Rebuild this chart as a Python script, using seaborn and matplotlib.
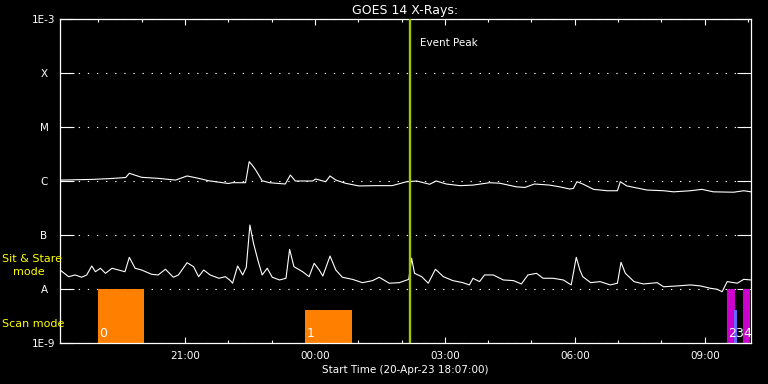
import matplotlib
matplotlib.use("Agg")
import matplotlib.pyplot as plt
import matplotlib.dates as mdates
import matplotlib.ticker as mticker
import numpy as np
import pandas as pd
import seaborn as sns
from datetime import timedelta

# ---------------- data ----------------
start = pd.Timestamp("2023-04-20 18:07:00")
end_min = 957
peak_min = 485

# long channel (1-8 A), minutes from start / flux W m^-2
long_min = [0, 44, 70, 91, 96, 113, 136, 160, 176, 192, 206, 233, 239, 257, 262, 266,
            271, 276, 280, 290, 312, 319, 326, 350, 354, 368, 374, 382, 395, 414, 437,
            460, 480, 494, 512, 521, 535, 554, 572, 595, 609, 632, 644, 657, 678, 692,
            706, 711, 716, 724, 739, 758, 772, 776, 785, 813, 836, 850, 873, 889, 905,
            933, 947, 957]
long_flux = [1.04e-6, 1.07e-6, 1.11e-6, 1.16e-6, 1.39e-6, 1.17e-6, 1.12e-6, 1.04e-6,
             1.24e-6, 1.12e-6, 1.01e-6, 9.0e-7, 9.3e-7, 9.3e-7, 2.28e-6, 1.98e-6,
             1.60e-6, 1.24e-6, 1.01e-6, 9.3e-7, 8.8e-7, 1.29e-6, 1.0e-6, 1.0e-6,
             1.09e-6, 9.7e-7, 1.24e-6, 1.04e-6, 9.1e-7, 8.1e-7, 8.2e-7, 8.2e-7,
             9.7e-7, 1.0e-6, 8.7e-7, 1.0e-6, 8.8e-7, 8.2e-7, 8.4e-7, 9.3e-7, 9.1e-7,
             7.8e-7, 7.6e-7, 8.8e-7, 8.4e-7, 7.8e-7, 7.1e-7, 7.3e-7, 9.7e-7, 8.8e-7,
             7.0e-7, 6.6e-7, 6.6e-7, 9.7e-7, 8.1e-7, 6.8e-7, 6.6e-7, 6.3e-7, 6.6e-7,
             7.0e-7, 6.3e-7, 6.2e-7, 6.6e-7, 6.3e-7]

# short channel (0.5-4 A)
short_min = [0, 12, 21, 30, 37, 44, 49, 56, 63, 72, 81, 90, 96, 104, 113, 127, 136, 146,
             157, 164, 176, 185, 192, 199, 208, 220, 229, 236, 239, 246, 253, 258, 263,
             268, 274, 280, 287, 294, 304, 313, 318, 324, 336, 345, 352, 359, 364, 374,
             382, 391, 405, 419, 433, 442, 456, 470, 483, 487, 491, 501, 510, 520, 531,
             544, 558, 567, 572, 581, 588, 600, 614, 628, 639, 648, 660, 669, 683, 697,
             708, 715, 720, 724, 735, 748, 762, 772, 777, 783, 795, 808, 827, 836, 855,
             873, 887, 901, 910, 917, 924, 938, 947, 957]
short_flux = [2.25e-8, 1.69e-8, 1.82e-8, 1.65e-8, 1.82e-8, 2.67e-8, 2.09e-8, 2.42e-8,
              1.95e-8, 2.42e-8, 2.25e-8, 2.09e-8, 3.86e-8, 2.42e-8, 2.25e-8, 1.87e-8,
              1.82e-8, 2.32e-8, 1.65e-8, 1.82e-8, 3.07e-8, 2.59e-8, 1.69e-8, 2.25e-8,
              1.82e-8, 1.58e-8, 1.69e-8, 1.43e-8, 1.28e-8, 2.67e-8, 1.82e-8, 2.52e-8,
              1.53e-7, 7.02e-8, 3.44e-8, 1.82e-8, 2.42e-8, 1.65e-8, 1.47e-8, 1.58e-8,
              5.43e-8, 2.59e-8, 2.09e-8, 1.69e-8, 2.99e-8, 2.25e-8, 1.74e-8, 4.08e-8,
              2.25e-8, 1.65e-8, 1.51e-8, 1.31e-8, 1.43e-8, 1.65e-8, 1.28e-8, 1.31e-8,
              1.51e-8, 3.70e-8, 1.95e-8, 1.69e-8, 1.28e-8, 2.32e-8, 1.69e-8, 1.43e-8,
              1.31e-8, 1.19e-8, 1.58e-8, 1.37e-8, 1.82e-8, 1.82e-8, 1.47e-8, 1.43e-8,
              1.24e-8, 1.82e-8, 1.95e-8, 1.58e-8, 1.58e-8, 1.47e-8, 1.19e-8, 3.86e-8,
              2.25e-8, 1.69e-8, 1.31e-8, 1.37e-8, 1.19e-8, 1.28e-8, 3.12e-8, 1.95e-8,
              1.37e-8, 1.24e-8, 1.31e-8, 1.10e-8, 1.14e-8, 1.19e-8, 1.14e-8, 1.03e-8,
              9.9e-9, 8.9e-9, 1.37e-8, 1.28e-8, 1.51e-8, 1.47e-8]

# observing-mode bars
mode_labels = ["0", "1", "2", "3", "4"]
mode_start_min = [53, 340, 924, 934, 946]
mode_end_min = [117, 404, 935, 938, 956]
mode_top = [1e-8, 4.1e-9, 1e-8, 4.1e-9, 1e-8]
mode_colors = ["#ff8000", "#ff8000", "#cc00cc", "#6666ff", "#cc00cc"]

ytick_vals = [1e-9, 1e-8, 1e-7, 1e-6, 1e-5, 1e-4, 1e-3]
ytick_labels = ["1E-9", "A", "B", "C", "M", "X", "1E-3"]

# ---------------- style ----------------
sns.set_theme(style="dark", rc={
    "axes.facecolor": "black", "figure.facecolor": "black",
    "axes.edgecolor": "white", "text.color": "white",
    "axes.labelcolor": "white", "xtick.color": "white", "ytick.color": "white",
})
plt.rcParams["font.family"] = ["DejaVu Sans"]

fig = plt.figure(figsize=(7.68, 3.84), dpi=100)
ax = fig.add_axes([60 / 768, 41 / 384, 691 / 768, 324 / 384])

t0 = start.to_pydatetime()
def tm(m):
    return t0 + timedelta(minutes=float(m))

long_df = pd.DataFrame({"time": [tm(m) for m in long_min], "flux": long_flux})
short_df = pd.DataFrame({"time": [tm(m) for m in short_min], "flux": short_flux})

ax.set_yscale("log")

# mode bars
for lab, s, e, top, c in zip(mode_labels, mode_start_min, mode_end_min, mode_top, mode_colors):
    ax.bar(tm(s), top - 1e-9, width=timedelta(minutes=e - s), bottom=1e-9,
           align="edge", color=c, linewidth=0, zorder=1)
    ax.text(tm(s + 1), 1.12e-9, lab, color="white", fontsize=9,
            ha="left", va="bottom", zorder=5)

sns.lineplot(data=long_df, x="time", y="flux", ax=ax, color="white", lw=0.8, zorder=3)
sns.lineplot(data=short_df, x="time", y="flux", ax=ax, color="white", lw=0.8, zorder=3)

ax.axvline(tm(peak_min), color="#a0c800", lw=1.7, zorder=4)
ax.text(tm(peak_min + 14), 3.6e-4, "Event Peak", color="white", fontsize=7.5,
        ha="left", va="center")

ax.set_xlim(tm(0), tm(end_min))
ax.set_ylim(1e-9, 1e-3)

ax.yaxis.set_major_locator(mticker.FixedLocator(ytick_vals))
ax.yaxis.set_major_formatter(mticker.FixedFormatter(ytick_labels))
ax.yaxis.set_minor_locator(mticker.NullLocator())
ax.tick_params(axis="y", which="major", direction="in", length=10, width=0.8,
               right=True, left=True, pad=11.5, labelsize=7.5)
for lbl in ax.get_yticklabels():
    lbl.set_horizontalalignment("center")

ax.xaxis.set_major_locator(mdates.HourLocator(byhour=range(0, 24, 3)))
ax.xaxis.set_minor_locator(mdates.HourLocator())
ax.xaxis.set_major_formatter(mdates.DateFormatter("%H:%M"))
ax.tick_params(axis="x", which="major", direction="in", length=4, width=0.8,
               top=True, bottom=True, pad=5.5, labelsize=7.5)
ax.tick_params(axis="x", which="minor", direction="in", length=2.3, width=0.8,
               top=True, bottom=True)

ax.yaxis.grid(True, color="white", linestyle=(0, (1.2, 7)), linewidth=0.8)
ax.xaxis.grid(False)
for sp in ax.spines.values():
    sp.set_color("white")
    sp.set_linewidth(0.9)

ax.set_ylabel("")
ax.set_xlabel("Start Time (20-Apr-23 18:07:00)", fontsize=7.5, labelpad=3)
ax.set_title("GOES 14 X-Rays:", fontsize=9, color="white", pad=3.5)

fig.text(2 / 768, (384 - 259) / 384, "Sit & Stare", color="#ffff00", fontsize=8,
         ha="left", va="center")
fig.text(13 / 768, (384 - 272) / 384, "mode", color="#ffff00", fontsize=8,
         ha="left", va="center")
fig.text(2 / 768, (384 - 324) / 384, "Scan mode", color="#ffff00", fontsize=8,
         ha="left", va="center")

fig.savefig("out.png", dpi=100, facecolor="black")
